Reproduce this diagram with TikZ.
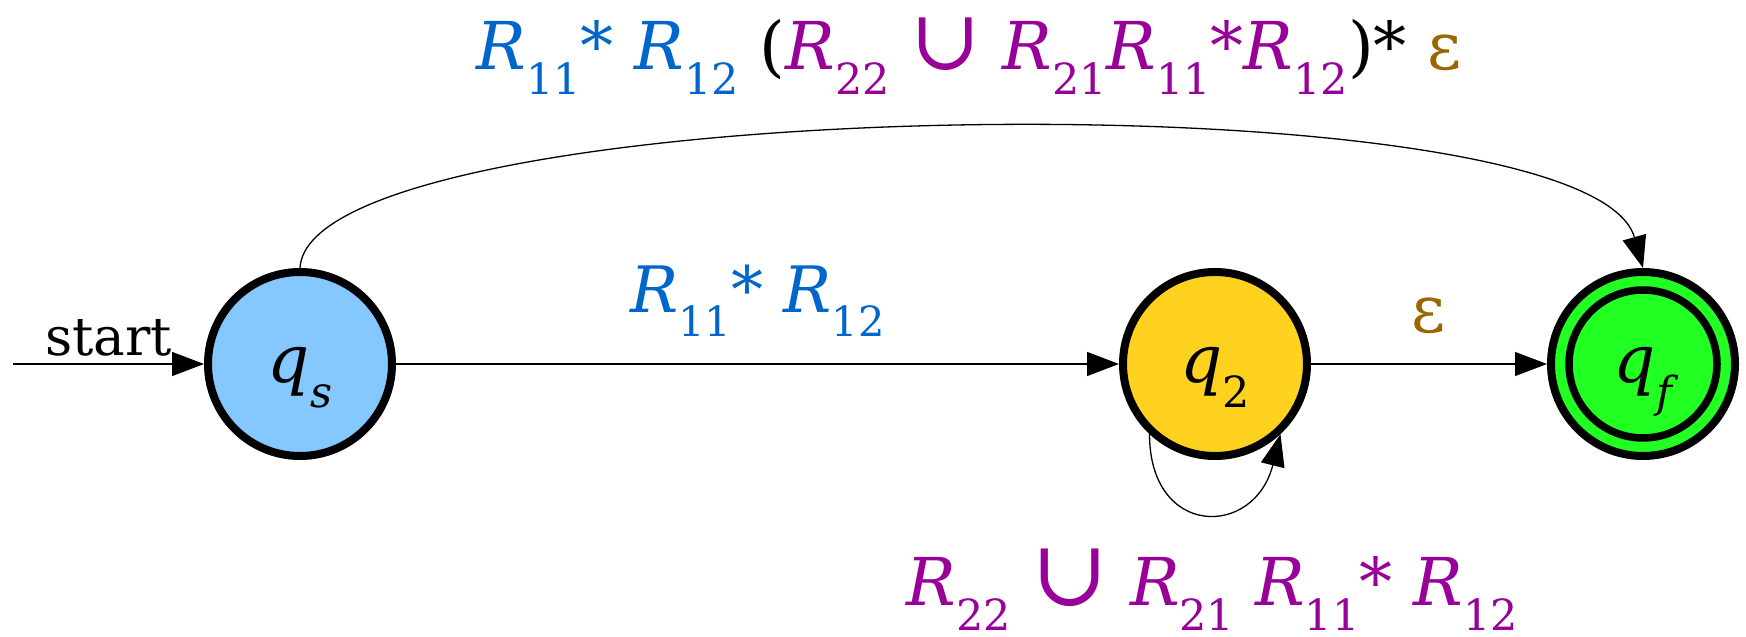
\documentclass[tikz,border=0pt]{standalone}
\usepackage{fontspec}
\setmainfont{DejaVu Serif}
\usetikzlibrary{arrows.meta,positioning}
\definecolor{startfill}{HTML}{84C8FF}
\definecolor{midfill}{HTML}{FFD21F}
\definecolor{finalfill}{HTML}{22FF22}
\definecolor{exprblue}{HTML}{0066CC}
\definecolor{exprpurple}{HTML}{990099}
\definecolor{exprbrown}{HTML}{996600}

% lowered, smaller index
\newcommand{\lowsub}[1]{\lower.37em\hbox{\fontsize{\dimexpr.65\fontdimen6\font\relax}{0pt}\selectfont\upshape#1}}
\newcommand{\Rij}[1]{\textit{R}\lowsub{#1}}
\newcommand{\cupsym}[1][92]{{\fontsize{#1}{0}\selectfont ∪}}

\begin{document}
\begin{tikzpicture}[
  x=1pt,
  y=1pt,
  state/.style={
    circle,
    draw=black,
    line width=8pt,
    minimum size=184pt,
    inner sep=0pt,
    text height=62pt,
    text depth=24pt,
    font=\fontsize{66}{66}\selectfont
  },
  edge/.style={-{Triangle[length=32pt,width=24pt]}, line width=1.3pt},
  lbl/.style={inner sep=0pt, anchor=base, font=\fontsize{66}{66}\selectfont},
  ring/.style={line width=7.5pt}
]
\useasboundingbox (0,0) rectangle (1746,637);

% States
\node[state, fill=startfill] (qs) at (300,273) {\textit{q}\lowsub{\itshape s}};
\node[state, fill=midfill] (q2) at (1215,273) {\textit{q}\lowsub{2}};
\node[state, fill=finalfill] (qf) at (1643,273) {\textit{q}\lowsub{\itshape f}};
\draw[ring] (qf.center) circle[radius=74pt];

% Start arrow
\coordinate (entry) at (13,273);
\draw[edge] (entry) -- node[lbl, yshift=8pt, font=\fontsize{53}{53}\selectfont] {start} (qs);

% Transitions
\draw[edge] (qs) -- node[lbl, yshift=51pt, text=exprblue, font=\fontsize{64}{64}\selectfont] {\Rij{11}* \Rij{12}} (q2);
\draw[edge] (q2) -- node[lbl, yshift=31pt, text=exprbrown] {ε} (qf);
\draw[edge] (q2.-133) .. controls +(0,-104) and +(-26,-104) .. node[lbl, yshift=-93.5pt, xshift=7pt, text=exprpurple] {\Rij{22} \cupsym[92] \Rij{21} \Rij{11}* \Rij{12}} (q2.-47);
\draw[edge] (qs.north) .. controls +(9,175) and +(-55,196) .. node[lbl, yshift=59pt, xshift=15pt] {{\color{exprblue}\Rij{11}* \Rij{12}} ({\color{exprpurple}\Rij{22} \cupsym[84] \Rij{21}\Rij{11}*\Rij{12}})* {\color{exprbrown}ε}} (qf.north);

\end{tikzpicture}
\end{document}
